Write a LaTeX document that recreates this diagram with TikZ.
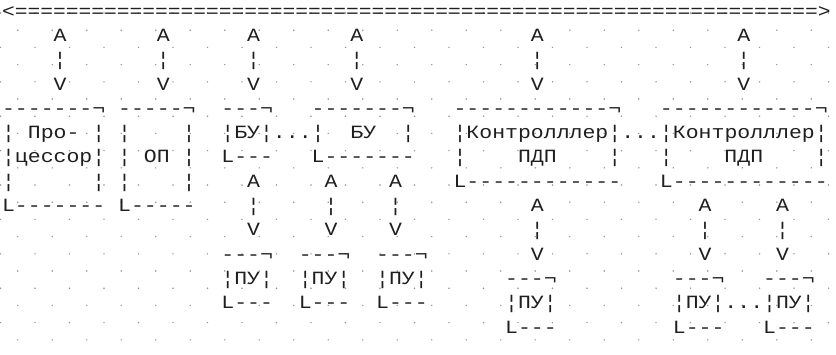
\documentclass[tikz,border=0pt]{standalone}
\usepackage{graphicx}
\usepackage{fontspec}
\newfontfamily\ascfont[FakeStretch=1.15,Ligatures=TeXOff]{Liberation Mono}
\definecolor{dotc}{gray}{0.58}
\definecolor{inkc}{gray}{0.12}
\tikzset{asc/.style={anchor=base west, inner sep=0pt, outer sep=0pt, text=inkc,
  font=\ascfont\fontsize{18.7pt}{22pt}\selectfont}}
% name, column, row, text
\newcommand\atok[4]{\node[asc] (#1) at ({2.05+12.9*#2},{17.1+24.3*#3}) {#4};}
\begin{document}
\begin{tikzpicture}[x=1pt,y=-1pt]
\useasboundingbox (0,0) rectangle (836,354);
\fill[white] (0,0) rectangle (836,354);
% dotted paper
\foreach \k in {0,...,19}{
  \pgfmathsetmacro\dy{13+17.2*\k}
  \pgfmathsetmacro\dx{mod(\k,2)*17.25+0.5}
  \foreach \j in {0,...,24}{
    \fill[dotc] ({\dx+34.5*\j},\dy) circle (0.8pt);
  }
}
% row 0: bus
\atok{bus}{0}{0}{\scalebox{0.988}[1]{<===============================================================>}}
% rows 1-3: bus links
\atok{a1}{4}{1}{A}  \atok{a2}{12}{1}{A} \atok{a3}{19}{1}{A}
\atok{a4}{27}{1}{A} \atok{a5}{41}{1}{A} \atok{a6}{57}{1}{A}
\atok{b1}{4}{2}{¦}  \atok{b2}{12}{2}{¦} \atok{b3}{19}{2}{¦}
\atok{b4}{27}{2}{¦} \atok{b5}{41}{2}{¦} \atok{b6}{57}{2}{¦}
\atok{v1}{4}{3}{V}  \atok{v2}{12}{3}{V} \atok{v3}{19}{3}{V}
\atok{v4}{27}{3}{V} \atok{v5}{41}{3}{V} \atok{v6}{57}{3}{V}
% row 4: box tops
\atok{t1}{0}{4}{-------¬}
\atok{t2}{9}{4}{-----¬}
\atok{t3}{17}{4}{---¬}
\atok{t4}{24}{4}{-------¬}
\atok{t5}{35}{4}{------------¬}
\atok{t6}{51}{4}{------------¬}
% row 5
\atok{p5a}{0}{5}{¦}
\atok{proc1}{2}{5}{Про-}
\atok{p5b}{7}{5}{¦}
\atok{o5a}{9}{5}{¦}
\atok{o5b}{14}{5}{¦}
\atok{bu1}{17}{5}{¦БУ¦...¦}
\atok{bu2}{27}{5}{БУ}
\atok{bu2r}{31}{5}{¦}
\atok{ctl}{35}{5}{¦Контролллер¦...¦Контролллер¦}
% row 6
\atok{proc2}{0}{6}{¦цессор¦}
\atok{o6a}{9}{6}{¦}
\atok{op}{11}{6}{ОП}
\atok{o6b}{14}{6}{¦}
\atok{bub1}{17}{6}{L---}
\atok{bub2}{24}{6}{L-------}
\atok{k6a}{35}{6}{¦}
\atok{pdp1}{40}{6}{ПДП}
\atok{k6b}{47}{6}{¦}
\atok{k6c}{51}{6}{¦}
\atok{pdp2}{56}{6}{ПДП}
\atok{k6d}{63}{6}{¦}
% row 7
\atok{p7a}{0}{7}{¦}
\atok{p7b}{7}{7}{¦}
\atok{o7a}{9}{7}{¦}
\atok{o7b}{14}{7}{¦}
\atok{c1}{19}{7}{A} \atok{c2}{25}{7}{A} \atok{c3}{30}{7}{A}
\atok{kb1}{35}{7}{L------------}
\atok{kb2}{51}{7}{L------------}
% row 8
\atok{pb}{0}{8}{L-------}
\atok{ob}{9}{8}{L-----}
\atok{d1}{19}{8}{¦} \atok{d2}{25}{8}{¦} \atok{d3}{30}{8}{¦}
\atok{c4}{41}{8}{A} \atok{c5}{54}{8}{A} \atok{c6}{60}{8}{A}
% row 9
\atok{w1}{19}{9}{V} \atok{w2}{25}{9}{V} \atok{w3}{30}{9}{V}
\atok{d4}{41}{9}{¦} \atok{d5}{54}{9}{¦} \atok{d6}{60}{9}{¦}
% row 10
\atok{u1}{17}{10}{---¬} \atok{u2}{23}{10}{---¬} \atok{u3}{29}{10}{---¬}
\atok{w4}{41}{10}{V} \atok{w5}{54}{10}{V} \atok{w6}{60}{10}{V}
% row 11
\atok{pu1}{17}{11}{¦ПУ¦} \atok{pu2}{23}{11}{¦ПУ¦} \atok{pu3}{29}{11}{¦ПУ¦}
\atok{u4}{39}{11}{---¬} \atok{u5}{52}{11}{---¬} \atok{u6}{59}{11}{---¬}
% row 12
\atok{l1}{17}{12}{L---} \atok{l2}{23}{12}{L---} \atok{l3}{29}{12}{L---}
\atok{pu4}{39}{12}{¦ПУ¦}
\atok{pu5}{52}{12}{¦ПУ¦...¦ПУ¦}
% row 13
\atok{l4}{39}{13}{L---} \atok{l5}{52}{13}{L---} \atok{l6}{59}{13}{L---}
\end{tikzpicture}
\end{document}
